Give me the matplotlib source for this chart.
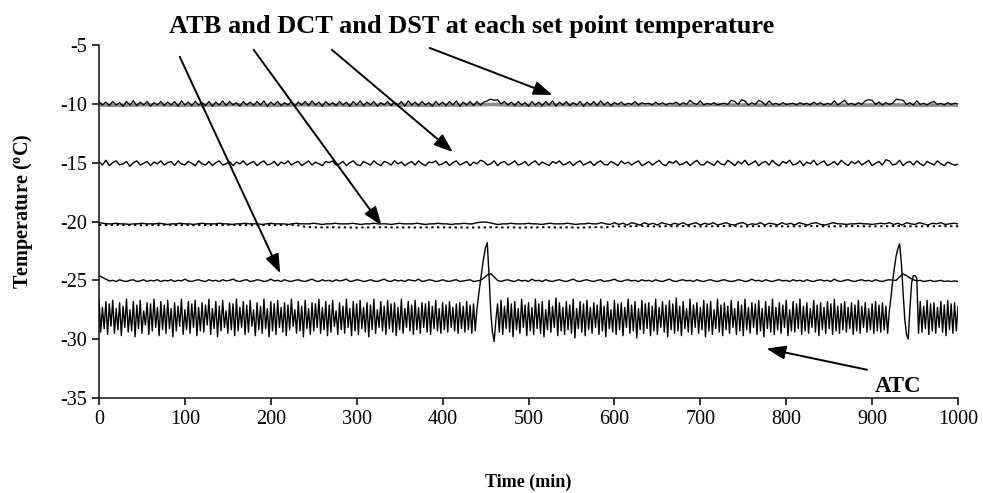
import matplotlib
matplotlib.use("Agg")
import matplotlib.pyplot as plt
import numpy as np

plt.rcParams['font.family'] = ['Liberation Serif', 'DejaVu Serif']
plt.rcParams['mathtext.fontset'] = 'custom'
plt.rcParams['mathtext.rm'] = 'Liberation Serif:bold'
plt.rcParams['mathtext.it'] = 'Liberation Serif:bold'
plt.rcParams['mathtext.bf'] = 'Liberation Serif:bold'
plt.rcParams['axes.unicode_minus'] = False

# sampling intervals (min) of each logged channel
step_atc = 2
step_fast = 4
step_20 = 5
step_slow = 10
step_gray = 20

# ATC, cabinet air temperature (deg C), every 2 min
atc = [
    -26.6, -29.4, -27.3, -29.1, -26.8, -29.6, -27.0, -28.9, -26.7, -29.5, -27.4, -29.2, -26.9, -29.7, -27.2, -29.0, -26.6, -29.4, -27.5, -29.3,
    -26.8, -29.8, -27.1, -29.1, -26.7, -29.5, -27.6, -28.8, -26.9, -29.6, -27.0, -29.3, -26.6, -29.0, -27.3, -29.7, -26.8, -29.2, -27.1, -29.5,
    -26.7, -29.1, -27.4, -29.8, -26.9, -29.3, -27.2, -28.9, -26.6, -29.6, -27.5, -29.2, -26.8, -29.5, -27.0, -29.0, -26.7, -29.7, -27.3, -29.3,
    -26.9, -29.4, -27.1, -28.8, -26.6, -29.6, -27.4, -29.1, -26.8, -29.8, -27.2, -29.3, -26.7, -29.0, -27.6, -29.5, -26.9, -29.2, -27.0, -29.7,
    -26.6, -29.3, -27.3, -29.0, -26.8, -29.6, -27.1, -29.4, -26.7, -28.9, -27.5, -29.7, -26.9, -29.2, -27.2, -29.5, -26.6, -29.1, -27.4, -29.8,
    -26.8, -29.3, -27.0, -29.6, -26.7, -29.0, -27.3, -29.4, -26.9, -29.7, -27.1, -29.2, -26.6, -28.9, -27.5, -29.5, -26.8, -29.3, -27.2, -29.8,
    -26.7, -29.1, -27.4, -29.6, -26.9, -29.3, -27.0, -29.0, -26.6, -29.5, -27.3, -29.2, -26.8, -29.7, -27.1, -29.4, -26.7, -28.9, -27.6, -29.6,
    -26.9, -29.2, -27.2, -29.5, -26.6, -29.0, -27.4, -29.7, -26.8, -29.3, -27.0, -29.6, -26.7, -29.1, -27.3, -29.4, -26.9, -29.8, -27.1, -29.2,
    -26.6, -29.5, -27.5, -29.0, -26.8, -29.3, -27.2, -29.6, -26.7, -29.1, -27.0, -29.4, -26.9, -29.7, -27.3, -29.2, -26.6, -29.5, -27.4, -29.0,
    -26.8, -29.3, -27.1, -29.6, -26.7, -29.2, -27.3, -29.5, -26.9, -29.0, -27.0, -29.4, -26.8, -29.6, -27.2, -29.1, -26.7, -29.3, -27.4, -29.5,
    -26.9, -29.2, -27.1, -29.4, -26.8, -29.0, -27.3, -29.3, -27.0, -29.5, -26.9, -29.1, -27.2, -29.4, -26.8, -29.2, -27.1, -29.5, -27.0, -29.3,
    # defrost 1
    -27.4, -26.2, -25.1, -24.0, -23.0, -22.2, -21.8, -24.5, -27.6, -29.4, -30.2, -28.4, -27.0,
    -29.4,
    -26.7, -29.6, -27.2, -29.1, -26.5, -29.4, -27.0, -29.8, -26.8, -29.2, -27.4, -29.5, -26.6, -29.0, -27.1, -29.7, -26.9, -29.3, -27.3, -29.6,
    -26.6, -29.1, -27.0, -29.5, -26.8, -29.8, -27.5, -29.2, -26.7, -29.4, -27.2, -29.0, -26.5, -29.7, -26.9, -29.3, -27.3, -29.6, -26.8, -29.2,
    -27.1, -29.5, -26.6, -29.9, -27.4, -29.1, -26.8, -29.4, -27.0, -29.7, -26.7, -29.2, -27.3, -29.5, -26.9, -29.0, -27.1, -29.6, -26.6, -29.3,
    -27.2, -29.8, -26.8, -29.1, -27.5, -29.4, -26.7, -29.6, -27.0, -29.2, -26.9, -29.7, -27.3, -29.0, -26.6, -29.5, -27.1, -29.3, -26.8, -29.9,
    -27.4, -29.2, -26.7, -29.5, -27.0, -29.1, -26.9, -29.7, -27.2, -29.3, -26.6, -29.6, -27.3, -29.0, -26.8, -29.4, -27.1, -29.8, -26.7, -29.2,
    -27.0, -29.5, -26.5, -29.3, -27.2, -29.7, -26.8, -29.1, -27.4, -29.4, -26.6, -29.6, -27.1, -29.0, -26.9, -29.5, -27.3, -29.2, -26.7, -29.8,
    -27.0, -29.3, -26.8, -29.6, -27.5, -29.1, -26.6, -29.4, -27.1, -29.7, -26.9, -29.2, -27.2, -29.5, -26.7, -29.0, -27.4, -29.6, -26.8, -29.3,
    -27.1, -29.7, -26.6, -29.2, -27.3, -29.5, -26.9, -29.0, -27.0, -29.6, -26.7, -29.3, -27.4, -29.8, -26.8, -29.1, -27.2, -29.4, -26.6, -29.6,
    -27.3, -29.2, -26.9, -29.5, -27.1, -29.0, -26.7, -29.7, -27.5, -29.3, -26.8, -29.4, -27.0, -29.1, -26.6, -29.6, -27.2, -29.3, -26.9, -29.5,
    -27.4, -29.0, -26.7, -29.4, -27.1, -29.7, -26.9, -29.2, -27.3, -29.5, -26.8, -29.1, -27.0, -29.6, -26.6, -29.3, -27.2, -29.5, -27.0, -29.2,
    -26.8, -29.4, -27.3, -29.1, -26.9, -29.6, -27.1, -29.3, -26.7, -29.5, -27.2, -29.0, -26.9, -29.4, -27.4, -29.2, -27.0, -29.5, -26.8, -29.3,
    -27.1, -29.4, -26.9, -29.2, -27.2, -29.5,
    # defrost 2
    -27.6, -26.4, -25.0, -23.9, -22.9, -22.3, -21.9, -23.5, -26.0, -28.3, -29.6, -30.0, -27.4, -25.2, -24.6, -24.6, -24.8, -29.5,
    -26.8, -29.4, -27.2, -29.1, -26.7, -29.6, -27.0, -29.3, -26.9, -29.5, -27.3, -29.0, -26.8, -29.4, -27.1, -29.7, -26.7, -29.2, -27.0, -29.5,
    -26.9, -29.3, -27.2,
]

# set point -10: ATB trace (black) and DST trace (grey)
sp10 = [
    -9.8, -10.1, -9.85, -10.15, -9.8, -10.1, -9.9, -10.2, -9.8, -10.1, -9.75, -10.15, -9.85, -10.1, -9.8, -10.2, -9.9, -10.1, -9.8, -10.15,
    -9.85, -10.1, -9.8, -10.2, -9.75, -10.1, -9.85, -10.15, -9.8, -10.1, -9.9, -10.15, -9.8, -10.2, -9.85, -10.1, -9.75, -10.15, -9.8, -10.1,
    -9.9, -10.2, -9.8, -10.1, -9.85, -10.15, -9.8, -10.1, -9.75, -10.2, -9.85, -10.1, -9.8, -10.15, -9.9, -10.1, -9.8, -10.2, -9.85, -10.1,
    -9.8, -10.15, -9.75, -10.1, -9.85, -10.2, -9.8, -10.1, -9.9, -10.15, -9.8, -10.1, -9.85, -10.2, -9.8, -10.1, -9.75, -10.15, -9.85, -10.1,
    -9.8, -10.2, -9.9, -10.1, -9.8, -10.15, -9.85, -10.1, -9.8, -10.2, -9.75, -10.1, -9.85, -10.15, -9.8, -10.1, -9.9, -10.2, -9.8, -10.1,
    -9.85, -10.15, -9.8, -10.1, -9.75, -10.2, -9.85, -10.1, -9.8, -10.15, -9.8, -10.1, -9.85, -9.75, -9.6, -9.7, -9.65, -10.0, -9.8, -10.1,
    -9.85, -10.15, -9.8, -10.1, -9.9, -10.2, -9.8, -10.1, -9.85, -10.15, -9.8, -10.1, -9.75, -10.2, -9.85, -10.1, -9.8, -10.15, -9.9, -10.1,
    -9.8, -10.2, -9.85, -10.1, -9.8, -10.15, -9.75, -10.1, -9.85, -10.15,
    -9.9, -10.05, -9.85, -10.1, -9.95, -10.05, -9.8, -10.1, -9.9, -10.0, -9.95, -10.1, -9.85, -10.05, -9.9, -10.1, -9.95, -10.0, -9.85, -10.1, -9.9,
    -10.05, -9.7, -9.95, -10.05, -9.75, -10.1, -9.95, -10.05, -9.9, -10.1, -10.0, -9.95, -10.05, -9.7, -9.8, -10.05, -9.65, -9.75, -10.1, -9.9, -10.05,
    -9.7, -9.85, -10.1, -9.75, -10.05, -9.95, -10.1, -9.9, -10.05, -10.0, -9.95, -10.1, -9.9, -10.05, -9.95, -10.1, -9.85, -10.05, -9.9, -10.1, -9.95,
    -10.05, -9.75, -10.1, -9.9, -9.7, -10.05, -9.95, -10.1, -9.9, -10.05, -9.75, -9.65, -9.7, -10.05, -9.85, -10.1, -9.9, -10.05, -9.95, -9.6, -9.65,
    -9.7, -10.05, -9.9, -10.1, -9.75, -10.05, -9.95, -10.1, -9.9, -9.8, -10.05, -9.95, -10.1, -9.9, -10.05, -9.95, -10.0,
]
sp10_grey = [
    -10.1, -10.12, -10.1, -10.08, -10.1, -10.12, -10.1, -10.1, -10.08, -10.1,
    -10.12, -10.1, -10.08, -10.1, -10.1, -10.12, -10.1, -10.08, -10.1, -10.12,
    -10.1, -10.1, -10.08, -10.05, -10.1, -10.12, -10.1, -10.08, -10.1, -10.1,
    -10.12, -10.1, -10.08, -10.1, -10.12, -10.1, -10.08, -10.1, -10.1, -10.12,
    -10.1, -10.08, -10.1, -10.12, -10.1, -10.1, -10.08, -10.1, -10.12, -10.1,
    -10.1,
]

# set point -15
sp15 = [
    -14.9, -15.2, -14.8, -15.25, -15.0, -14.85, -15.2, -15.1, -14.9, -15.3, -15.0, -14.85, -15.2, -15.05, -14.9, -15.25, -14.95, -15.1, -14.85, -15.2,
    -15.0, -14.9, -15.25, -14.85, -15.1, -15.2, -14.9, -15.05, -15.25, -14.85, -15.1, -15.2, -14.9, -15.25, -15.0, -14.85, -15.2, -15.1, -14.9, -15.25,
    -14.95, -15.1, -14.85, -15.2, -15.05, -14.9, -15.25, -15.0, -14.85, -15.2, -15.1, -14.9, -15.25, -14.95, -15.1, -14.85, -15.2, -15.0, -14.9, -15.25,
    -15.05, -14.85, -15.2, -14.95, -15.1, -15.25, -14.9, -15.0, -14.85, -15.2, -15.1, -14.9, -15.25, -15.0, -14.85, -15.15, -15.25, -14.9, -15.05, -15.2,
    -14.85, -15.1, -15.25, -14.9, -15.0, -15.2, -14.85, -15.1, -14.95, -15.25, -15.05, -14.9, -15.2, -14.85, -15.1, -15.25, -14.95, -15.0, -14.85, -15.2,
    -15.1, -14.9, -15.25, -15.0, -14.85, -15.2, -15.05, -14.9, -15.25, -14.95, -15.1, -14.8, -14.9, -15.2, -15.1, -14.85, -15.25, -15.0, -14.9, -15.2,
    -15.05, -14.85, -15.2, -15.1, -14.9, -15.25, -15.0, -14.85, -15.2, -14.95, -15.1, -15.25, -14.9, -15.05, -14.85, -15.2, -15.1, -14.9, -15.25, -15.0,
    -14.85, -15.2, -15.05, -14.9, -15.25, -15.0, -14.85, -15.15, -15.2, -14.9, -15.05, -15.25, -14.85, -15.1, -14.95, -15.2, -15.0, -14.85, -15.25, -15.1,
    -14.9, -15.2, -15.0, -14.8, -15.15, -15.25, -14.9, -15.05, -14.85, -15.2, -15.1, -14.9, -15.25, -15.0, -14.8, -15.15, -15.2, -14.9, -15.05, -15.25,
    -14.85, -15.1, -15.2, -14.8, -15.0, -15.25, -14.9, -15.1, -14.8, -15.2, -15.05, -14.85, -15.25, -15.0, -14.9, -15.2, -14.8, -15.1, -15.25, -14.9,
    -15.05, -14.8, -15.2, -15.1, -14.85, -15.25, -14.95, -15.1, -14.8, -15.2, -15.0, -14.85, -15.25, -15.1, -14.9, -15.2, -14.8, -15.05, -15.25, -14.9,
    -15.1, -14.85, -15.2, -15.0, -14.8, -15.25, -15.05, -14.9, -15.2, -14.75, -14.85, -15.2, -15.1, -14.8, -15.25, -15.0, -14.9, -15.2, -14.85, -15.1,
    -15.25, -14.9, -15.05, -15.2, -14.85, -15.1, -15.25, -14.95, -15.1, -15.2, -15.15,
]

# set point -20: solid trace every 5 min, dotted trace every 10 min
sp20 = [
    -20.1, -20.15, -20.2, -20.2, -20.15, -20.2, -20.2, -20.25, -20.2, -20.2, -20.15, -20.2, -20.2, -20.2, -20.15, -20.2, -20.25, -20.2, -20.2, -20.15,
    -20.2, -20.2, -20.25, -20.2, -20.15, -20.2, -20.2, -20.2, -20.15, -20.2, -20.2, -20.25, -20.2, -20.2, -20.15, -20.2, -20.2, -20.2, -20.25, -20.2,
    -20.15, -20.2, -20.2, -20.2, -20.25, -20.2, -20.15, -20.2, -20.2, -20.2, -20.15, -20.2, -20.25, -20.2, -20.2, -20.15, -20.2, -20.2, -20.2, -20.15,
    -20.2, -20.25, -20.2, -20.2, -20.15, -20.2, -20.2, -20.2, -20.25, -20.2, -20.15, -20.2, -20.2, -20.2, -20.15, -20.2, -20.25, -20.2, -20.2, -20.15,
    -20.2, -20.2, -20.25, -20.2, -20.2, -20.15, -20.2, -20.2, -20.1, -20.05, -20.05, -20.1, -20.2, -20.25, -20.2, -20.2, -20.15, -20.2, -20.2, -20.2,
    -20.15, -20.2, -20.2, -20.25, -20.2, -20.15, -20.2, -20.2, -20.2, -20.15, -20.2, -20.25, -20.2, -20.2, -20.15, -20.2, -20.2, -20.1, -20.2, -20.25,
    -20.1, -20.25, -20.15, -20.3, -20.1, -20.2, -20.3, -20.1, -20.25, -20.15, -20.3, -20.1, -20.2, -20.3, -20.15, -20.25, -20.1, -20.3, -20.2, -20.1,
    -20.3, -20.15, -20.25, -20.1, -20.3, -20.2, -20.1, -20.25, -20.3, -20.15, -20.1, -20.3, -20.2, -20.25, -20.1, -20.3, -20.15, -20.2, -20.3, -20.1,
    -20.25, -20.15, -20.3, -20.1, -20.2, -20.3, -20.15, -20.1, -20.25, -20.3, -20.2, -20.1, -20.2, -20.2, -20.25, -20.2, -20.2, -20.15, -20.2, -20.2,
    -20.25, -20.2, -20.15, -20.2, -20.1, -20.25, -20.15, -20.3, -20.1, -20.2, -20.25, -20.1, -20.2, -20.3, -20.15, -20.2, -20.1, -20.25, -20.2, -20.15,
    -20.2,
]
sp20_dot = [
    -20.3, -20.3, -20.28, -20.3, -20.3, -20.32, -20.3, -20.3, -20.28, -20.3, -20.3, -20.32,
    -20.3, -20.3, -20.3, -20.28, -20.3, -20.3, -20.32, -20.3, -20.3, -20.3, -20.28, -20.3,
    -20.45, -20.5, -20.5, -20.48, -20.5, -20.5, -20.52, -20.5, -20.5, -20.48, -20.5, -20.5,
    -20.5, -20.52, -20.5, -20.48, -20.5, -20.5, -20.5, -20.52, -20.5, -20.5, -20.48, -20.5,
    -20.5, -20.52, -20.5, -20.5, -20.48, -20.5, -20.5, -20.5, -20.52, -20.5, -20.48, -20.5,
    -20.4, -20.42, -20.4, -20.38, -20.4, -20.42, -20.4, -20.4, -20.38, -20.4, -20.42,
    -20.4, -20.4, -20.38, -20.4, -20.42, -20.4, -20.4, -20.38, -20.4, -20.42,
    -20.4, -20.4, -20.38, -20.4, -20.42, -20.4, -20.4, -20.38, -20.4, -20.42,
    -20.4, -20.4, -20.38, -20.4, -20.42, -20.4, -20.4, -20.38, -20.4, -20.4,
]

# set point -25
sp25 = [
    -24.6, -24.75, -24.9, -25.05, -25.0, -25.1, -24.95, -25.05, -25.1, -25.0, -24.95, -25.1, -25.05, -24.95, -25.1, -25.0, -25.05, -24.95, -25.1, -25.0,
    -25.05, -24.95, -25.1, -25.0, -25.05, -24.9, -25.05, -25.1, -25.0, -24.95, -25.05, -25.1, -24.95, -25.05, -25.0, -25.1, -24.95, -25.05, -25.0, -24.9,
    -25.05, -25.1, -25.0, -24.95, -25.1, -25.05, -24.95, -25.0, -25.1, -25.05, -24.9, -25.05, -25.0, -25.1, -24.95, -25.05, -25.1, -25.0, -24.95, -25.05,
    -25.1, -25.0, -24.9, -25.05, -25.1, -24.95, -25.05, -25.0, -25.1, -24.95, -25.05, -25.0, -24.9, -25.1, -25.05, -24.95, -25.0, -25.1, -25.05, -24.95,
    -25.05, -25.1, -25.0, -24.9, -25.05, -25.1, -24.95, -25.05, -25.0, -25.1, -24.95, -25.0, -25.05, -24.9, -25.1, -25.05, -24.95, -25.0, -25.1, -25.05,
    -24.95, -25.05, -25.1, -25.0, -24.95, -25.1, -25.05, -25.0, -24.95, -25.1, -25.05, -25.0, -24.8, -24.55, -24.45, -24.7, -25.0, -25.1, -25.0, -24.95,
    -25.05, -25.1, -24.95, -25.05, -25.0, -25.1, -24.9, -25.05, -25.0, -25.1, -24.95, -25.05, -25.1, -25.0, -24.95, -25.05, -25.1, -25.0, -24.9, -25.05,
    -25.1, -25.0, -24.95, -25.05, -25.1, -25.0, -24.95, -25.1, -25.05, -25.0, -24.9, -25.05, -25.1, -25.0, -24.95, -25.05, -25.0, -25.1, -24.95, -25.05,
    -25.0, -25.1, -24.95, -25.05, -25.1, -25.0, -24.9, -25.05, -25.1, -25.0, -24.95, -25.05, -25.0, -25.1, -24.95, -25.05, -25.1, -25.0, -24.95, -25.05,
    -25.1, -25.0, -24.95, -25.05, -25.1, -25.05, -24.95, -25.0, -25.1, -25.05, -24.9, -25.05, -25.0, -25.1, -24.95, -25.05, -25.1, -25.0, -24.95, -25.05,
    -25.0, -25.1, -24.95, -25.05, -25.0, -25.1, -24.95, -25.05, -25.1, -25.0, -24.95, -25.05, -25.0, -25.1, -24.9, -25.05, -25.1, -25.0, -24.95, -25.05,
    -25.1, -25.0, -24.95, -25.05, -25.0, -25.1, -24.95, -25.05, -25.1, -25.0, -24.95, -25.0, -25.0, -24.7, -24.45, -24.6, -24.8, -24.95, -25.05, -25.0,
    -25.1, -25.05, -25.0, -25.1, -25.05, -25.0, -25.1, -25.05, -25.1, -25.05, -25.1,
]


def minutes(values, step):
    return np.arange(len(values)) * step


fig = plt.figure(figsize=(9.83, 4.93), dpi=100)
ax = fig.add_axes([0.1007, 0.1927, 0.8739, 0.716])

ax.plot(minutes(sp10_grey, step_gray), sp10_grey, color='#8c8c8c', lw=2.6, zorder=2)
ax.plot(minutes(sp10, step_fast), sp10, color='black', lw=0.9, zorder=3)
ax.plot(minutes(sp15, step_fast), sp15, color='black', lw=1.0, zorder=3)
ax.plot(minutes(sp20, step_20), sp20, color='black', lw=1.0, zorder=3)
ax.plot(minutes(sp20_dot, step_slow), sp20_dot, color='black', lw=1.4,
        linestyle=(0, (1.2, 1.8)), zorder=3)
ax.plot(minutes(sp25, step_fast), sp25, color='black', lw=1.0, zorder=3)
ax.plot(minutes(atc, step_atc), atc, color='black', lw=1.0, zorder=3)

ax.set_xlim(0, 1000)
ax.set_ylim(-35, -5)
ax.set_xticks(np.arange(0, 1001, 100))
ax.set_yticks(np.arange(-35, -4, 5))
ax.spines['top'].set_visible(False)
ax.spines['right'].set_visible(False)
for s in ['left', 'bottom']:
    ax.spines[s].set_linewidth(1.2)
    ax.spines[s].set_color('#222222')
ax.tick_params(direction='out', length=5, width=1.1, labelsize=14.5, colors='black')

ax.set_xlabel('Time (min)', fontsize=13, fontweight='bold')
ax.xaxis.set_label_coords(0.5, -0.215)
ax.set_ylabel(r'Temperature ($^{o}$C)', fontsize=14.5, fontweight='bold')
ax.yaxis.set_label_coords(-0.074, 0.53)

ax.text(434, -3.45, 'ATB and DCT and DST at each set point temperature',
        ha='center', va='center', fontsize=19, fontweight='bold')
ax.text(930, -34.0, 'ATC', ha='center', va='center', fontsize=16.5, fontweight='bold')

arrow = dict(arrowstyle='-|>,head_length=1.15,head_width=0.42', color='black',
             lw=1.4, shrinkA=0, shrinkB=0)
for tail, tip in [((94, -6.0), (211, -24.4)),
                  ((180, -5.4), (329, -20.35)),
                  ((271, -5.4), (412, -14.1)),
                  ((385, -5.25), (528, -9.25)),
                  ((894, -32.6), (777, -30.8))]:
    ax.annotate('', xy=tip, xytext=tail, arrowprops=arrow, annotation_clip=False)

fig.savefig('out.png', dpi=100)
